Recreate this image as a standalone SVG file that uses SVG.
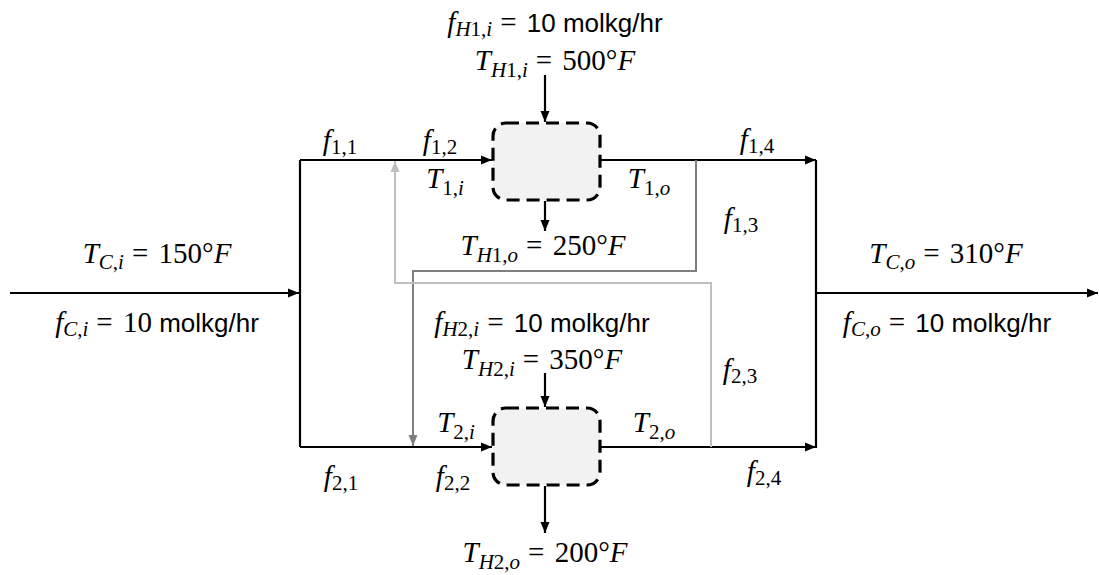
<svg xmlns="http://www.w3.org/2000/svg" width="1099" height="575" viewBox="0 0 1099 575">
<style>
.m{font-family:"Liberation Serif",serif;font-size:29px;fill:#000}
.i{font-style:italic}
.s{font-size:21px}
.t{font-family:"Liberation Sans",Arial,sans-serif;font-size:26px;font-style:normal}
.ln{fill:none;stroke:#000;stroke-width:2.2}
.dg{fill:none;stroke:#7f7f7f;stroke-width:2}
.lg{fill:none;stroke:#bfbfbf;stroke-width:2}
.hx{fill:#f2f2f2;stroke:#000;stroke-width:3.2;stroke-dasharray:13 7}
</style>
<defs>
<marker id="ab" markerUnits="userSpaceOnUse" markerWidth="12" markerHeight="10" refX="11" refY="5" orient="auto"><path d="M0,0.5 L11,5 L0,9.5 Z" fill="#000"/></marker>
<marker id="ad" markerUnits="userSpaceOnUse" markerWidth="12" markerHeight="10" refX="11" refY="5" orient="auto"><path d="M0,0.5 L11,5 L0,9.5 Z" fill="#7f7f7f"/></marker>
<marker id="al" markerUnits="userSpaceOnUse" markerWidth="12" markerHeight="10" refX="11" refY="5" orient="auto"><path d="M0,0.5 L11,5 L0,9.5 Z" fill="#bfbfbf"/></marker>
</defs>
<g id="connectors">
<path class="ln" d="M10,293 H299" marker-end="url(#ab)"/>
<path class="ln" d="M300,160 V447"/>
<path class="ln" d="M300,160 H492" marker-end="url(#ab)"/>
<path class="ln" d="M300,447 H492" marker-end="url(#ab)"/>
<path class="ln" d="M545,75 V122" marker-end="url(#ab)"/>
<path class="ln" d="M545,201 V231" marker-end="url(#ab)"/>
<path class="ln" d="M545,373 V407" marker-end="url(#ab)"/>
<path class="ln" d="M545,486 V533" marker-end="url(#ab)"/>
<path class="ln" d="M601,160 H816" marker-end="url(#ab)"/>
<path class="ln" d="M601,447 H816" marker-end="url(#ab)"/>
<path class="ln" d="M816,160 V448"/>
<path class="ln" d="M816,293 H1098" marker-end="url(#ab)"/>
<path class="dg" d="M696,160 V271 H413 V446" marker-end="url(#ad)"/>
<path class="lg" d="M711,447 V283 H395 V161" marker-end="url(#al)"/>
</g>
<g id="hx1"><rect class="hx" x="493" y="123" width="107" height="77" rx="13"/></g>
<g id="hx2"><rect class="hx" x="493" y="408" width="107" height="77" rx="13"/></g>
<g id="labels" class="m" text-anchor="middle">
<text x="555" y="32"><tspan class="i">f</tspan><tspan class="s i" dy="4">H</tspan><tspan class="s" >1,</tspan><tspan class="s i">i</tspan><tspan dy="-4" dx="8">=</tspan><tspan class="t" dx="3"> 10 molkg/hr</tspan></text>
<text x="555" y="70"><tspan class="i">T</tspan><tspan class="s i" dy="7">H</tspan><tspan class="s">1,</tspan><tspan class="s i">i</tspan><tspan dy="-7" dx="8">=</tspan><tspan dx="3"> 500°</tspan><tspan class="i">F</tspan></text>
<text x="340" y="150"><tspan class="i">f</tspan><tspan class="s" dy="4">1,1</tspan></text>
<text x="440" y="150"><tspan class="i">f</tspan><tspan class="s" dy="4">1,2</tspan></text>
<text x="445" y="188"><tspan class="i">T</tspan><tspan class="s" dy="7">1,</tspan><tspan class="s i">i</tspan></text>
<text x="649" y="188"><tspan class="i">T</tspan><tspan class="s" dy="7">1,</tspan><tspan class="s i">o</tspan></text>
<text x="757" y="149"><tspan class="i">f</tspan><tspan class="s" dy="4">1,4</tspan></text>
<text x="741" y="228"><tspan class="i">f</tspan><tspan class="s" dy="4">1,3</tspan></text>
<text x="543" y="255"><tspan class="i">T</tspan><tspan class="s i" dy="7">H</tspan><tspan class="s">1,</tspan><tspan class="s i">o</tspan><tspan dy="-7" dx="8">=</tspan><tspan dx="3"> 250°</tspan><tspan class="i">F</tspan></text>
<text x="157" y="263"><tspan class="i">T</tspan><tspan class="s i" dy="6">C</tspan><tspan class="s">,</tspan><tspan class="s i">i</tspan><tspan dy="-6" dx="8">=</tspan><tspan dx="3"> 150°</tspan><tspan class="i">F</tspan></text>
<text x="157" y="332"><tspan class="i">f</tspan><tspan class="s i" dy="4">C</tspan><tspan class="s">,</tspan><tspan class="s i">i</tspan><tspan dy="-4" dx="8">=</tspan><tspan dx="3"> 10 </tspan><tspan class="t"> molkg/hr</tspan></text>
<text x="946" y="263"><tspan class="i">T</tspan><tspan class="s i" dy="6">C</tspan><tspan class="s">,</tspan><tspan class="s i">o</tspan><tspan dy="-6" dx="8">=</tspan><tspan dx="3"> 310°</tspan><tspan class="i">F</tspan></text>
<text x="947" y="332"><tspan class="i">f</tspan><tspan class="s i" dy="4">C</tspan><tspan class="s">,</tspan><tspan class="s i">o</tspan><tspan dy="-4" dx="8">=</tspan><tspan class="t" dx="3"> 10 molkg/hr</tspan></text>
<text x="542" y="332"><tspan class="i">f</tspan><tspan class="s i" dy="4">H</tspan><tspan class="s">2,</tspan><tspan class="s i">i</tspan><tspan dy="-4" dx="8">=</tspan><tspan class="t" dx="3"> 10 molkg/hr</tspan></text>
<text x="542" y="369"><tspan class="i">T</tspan><tspan class="s i" dy="7">H</tspan><tspan class="s">2,</tspan><tspan class="s i">i</tspan><tspan dy="-7" dx="8">=</tspan><tspan dx="3"> 350°</tspan><tspan class="i">F</tspan></text>
<text x="740" y="379"><tspan class="i">f</tspan><tspan class="s" dy="4">2,3</tspan></text>
<text x="456" y="432"><tspan class="i">T</tspan><tspan class="s" dy="7">2,</tspan><tspan class="s i">i</tspan></text>
<text x="654" y="432"><tspan class="i">T</tspan><tspan class="s" dy="7">2,</tspan><tspan class="s i">o</tspan></text>
<text x="341" y="486"><tspan class="i">f</tspan><tspan class="s" dy="4">2,1</tspan></text>
<text x="453" y="486"><tspan class="i">f</tspan><tspan class="s" dy="4">2,2</tspan></text>
<text x="764" y="481"><tspan class="i">f</tspan><tspan class="s" dy="4">2,4</tspan></text>
<text x="545" y="562"><tspan class="i">T</tspan><tspan class="s i" dy="7">H</tspan><tspan class="s">2,</tspan><tspan class="s i">o</tspan><tspan dy="-7" dx="8">=</tspan><tspan dx="3"> 200°</tspan><tspan class="i">F</tspan></text>
</g>
</svg>
